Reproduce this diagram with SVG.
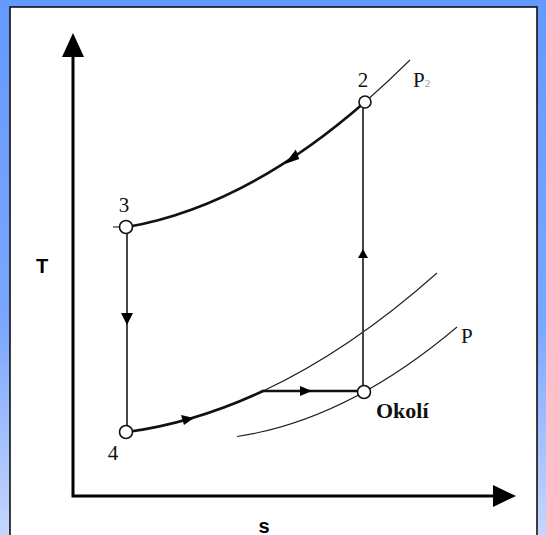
<svg xmlns="http://www.w3.org/2000/svg" width="546" height="535" viewBox="0 0 546 535">
<defs>
<linearGradient id="bg" x1="0" y1="0" x2="0" y2="1">
<stop offset="0" stop-color="#6699ff"/>
<stop offset="0.6" stop-color="#7aa6ff"/>
<stop offset="1" stop-color="#c6d6ff"/>
</linearGradient>
</defs>
<style>
.thick{fill:none;stroke:#111;stroke-width:2.6;stroke-linecap:round}
.thin{fill:none;stroke:#222;stroke-width:1.1}
.vert{fill:none;stroke:#333;stroke-width:1.8}
.pt{fill:#fff;stroke:#111;stroke-width:1.6}
.arr{fill:#000}
.lbl{font-family:"Liberation Serif",serif;font-size:21px;fill:#111}
.ax{font-family:"Liberation Sans",Arial,sans-serif;font-size:20px;font-weight:bold;fill:#000}
</style>
<rect x="0" y="0" width="546" height="535" fill="url(#bg)"/>
<rect x="10" y="7" width="527" height="540" fill="#fff" stroke="#111" stroke-width="1.6"/>

<g id="axes">
<line x1="73" y1="495" x2="73" y2="56" stroke="#000" stroke-width="3"/>
<polygon points="73,33 62,57 84,57" fill="#000"/>
<line x1="71.5" y1="496" x2="494" y2="496" stroke="#000" stroke-width="3"/>
<polygon points="516,496 493,485 493,507" fill="#000"/>
<text class="ax" x="42" y="273" text-anchor="middle">T</text>
<text class="ax" x="264" y="533" text-anchor="middle">s</text>
</g>

<g id="isobars">
<path class="thin" d="M365,102 Q387.5,82.3 410,60"/>
<path class="thin" d="M263,391 Q350,350.4 437,273"/>
<path class="thin" d="M237,436.5 Q347,420.1 457,327"/>
<line class="thin" x1="113" y1="227" x2="121" y2="227"/>
</g>

<g id="connectors">
<path class="thick" d="M127,227 Q245.5,206.5 365,102"/>
<line class="vert" x1="127" y1="227" x2="127" y2="432"/>
<path class="thick" d="M127,432 Q194.5,422.9 263,391"/>
<line class="thick" x1="263" y1="391" x2="363" y2="391"/>
<line class="vert" x1="363" y1="391" x2="363" y2="102"/>
<polygon class="arr" points="284,163 297,150 299,160" transform="rotate(-8 292 158)"/>
<polygon class="arr" points="127,325 121,313 133,313"/>
<polygon class="arr" points="363,249 358,258 368,258"/>
<polygon class="arr" points="312,391 300,386 300,396"/>
<polygon class="arr" points="194,418 181,415 184,425"/>
</g>

<g id="node-2">
<circle class="pt" cx="365" cy="102" r="6"/>
<text class="lbl" x="363" y="87" text-anchor="middle">2</text>
</g>
<g id="node-3">
<circle class="pt" cx="126" cy="227" r="6.5"/>
<text class="lbl" x="124" y="212" text-anchor="middle">3</text>
</g>
<g id="node-4">
<circle class="pt" cx="126" cy="432" r="6.5"/>
<text class="lbl" x="113" y="460" text-anchor="middle">4</text>
</g>
<g id="node-okoli">
<circle class="pt" cx="364" cy="392" r="6.5"/>
<text x="376" y="418" font-family="Liberation Serif, serif" font-size="22" font-weight="bold" fill="#111">Okolí</text>
</g>
<g id="labels">
<text class="lbl" x="413" y="87">P<tspan font-size="11" fill="#999">2</tspan></text>
<text class="lbl" x="461" y="343" font-size="23">P</text>
</g>
</svg>
